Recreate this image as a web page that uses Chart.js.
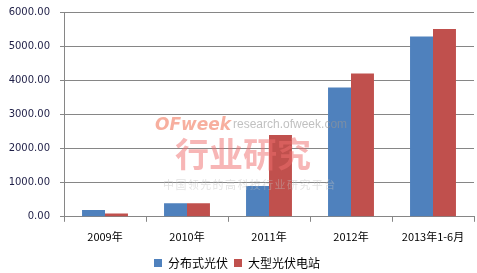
<!DOCTYPE html>
<html><head><meta charset="utf-8">
<script src="https://cdn.jsdelivr.net/npm/chart.js@4/dist/chart.umd.min.js"></script>
<style>
html,body{margin:0;padding:0;background:#fff;overflow:hidden;}
#wrap{position:relative;width:477px;height:273px;overflow:hidden;}
canvas{position:absolute;left:0;top:-4px;}
.wm{position:absolute;white-space:nowrap;pointer-events:none;}
</style></head><body>
<div id="wrap">
<canvas id="c" width="477" height="283"></canvas>
<div class="wm" style="left:155px;top:114px;font:italic bold 17px 'DejaVu Sans',sans-serif;color:rgba(240,110,80,0.55);letter-spacing:0px;">OFweek</div>
<div class="wm" style="left:233px;top:117px;font:12px 'Liberation Sans',sans-serif;color:rgba(150,150,150,0.6);">research.ofweek.com</div>
<div class="wm" style="left:175px;top:133px;font:bold 34px 'Noto Sans CJK SC',sans-serif;color:rgba(240,110,110,0.5);line-height:40px;">行业研究</div>
<div class="wm" style="left:163px;top:176px;font:11px 'Noto Sans CJK SC',serif;color:rgba(190,190,190,0.45);letter-spacing:1.4px;">中国领先的高科技行业研究平台</div>
</div>
<script>
const categories = ['2009年','2010年','2011年','2012年','2013年1-6月'];
const distributedPV = [200, 400, 900, 3790, 5280];
const utilityPV = [100, 400, 2400, 4200, 5500];
const seriesNames = ['分布式光伏','大型光伏电站'];
const yTicks = [0,1000,2000,3000,4000,5000,6000];

new Chart(document.getElementById('c'), {
  type: 'bar',
  data: {
    labels: categories,
    datasets: [
      {label: seriesNames[0], data: distributedPV, backgroundColor: '#4f81bd', categoryPercentage: 0.56, barPercentage: 1},
      {label: seriesNames[1], data: utilityPV, backgroundColor: '#c0504d', categoryPercentage: 0.56, barPercentage: 1}
    ]
  },
  options: {
    responsive: false,
    animation: false,
    layout: {padding: {left: 0, right: 3, top: 1, bottom: 0}},
    plugins: {
      tooltip: {enabled: false},
      legend: {
        position: 'bottom',
        labels: {boxWidth: 8, boxHeight: 8, padding: 6, color: '#000',
          font: {family: "'Noto Sans CJK SC', sans-serif", size: 12}}
      }
    },
    scales: {
      x: {
        offset: true,
        grid: {offset: true, drawOnChartArea: false, drawTicks: true, tickLength: 5, color: '#868686'},
        border: {color: '#868686'},
        ticks: {color: '#000', padding: 8, font: {family: "'Noto Sans CJK SC', sans-serif", size: 11}}
      },
      y: {
        min: 0, max: 6000,
        afterBuildTicks: s => { s.ticks = yTicks.map(v => ({value: v})); },
        afterFit: s => { s.width = 64; },
        grid: {color: '#868686', tickLength: 4},
        border: {color: '#868686'},
        ticks: {color: '#1f1f47', padding: 10,
          font: {family: "'DejaVu Sans', sans-serif", size: 10},
          callback: v => Number(v).toFixed(2)}
      }
    }
  }
});
</script>
</body></html>
